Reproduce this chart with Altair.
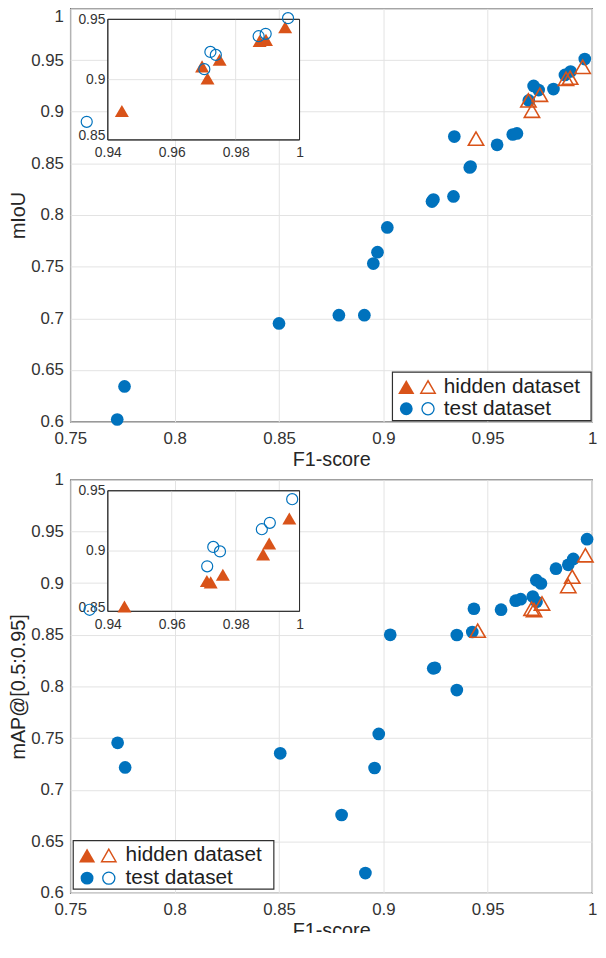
import altair as alt
import pandas as pd

BLUE = "#0072BD"
ORANGE = "#D95319"
GRID = "#e3e3e3"
FRAME = "#303030"
FONT = "Liberation Sans"

# ---------------- data ----------------
x_ticks = [0.75, 0.8, 0.85, 0.9, 0.95, 1.0]
y_ticks = [0.6, 0.65, 0.7, 0.75, 0.8, 0.85, 0.9, 0.95, 1.0]
inset_x_ticks = [0.94, 0.96, 0.98, 1.0]
inset_y_ticks = [0.85, 0.9, 0.95]
legend_labels = ["hidden dataset", "test dataset"]

# panel 1 : mIoU
miou_test_f1 = [0.7725, 0.776, 0.850, 0.8787, 0.8909, 0.8952, 0.8972, 0.9019, 0.9233, 0.924,
                0.9336, 0.934, 0.9414, 0.9418, 0.9545, 0.962, 0.964, 0.9697, 0.972, 0.9744,
                0.9815, 0.987, 0.9897, 0.9965]
miou_test_val = [0.602, 0.634, 0.695, 0.703, 0.703, 0.753, 0.764, 0.788, 0.813, 0.815,
                 0.818, 0.876, 0.846, 0.847, 0.868, 0.878, 0.879, 0.911, 0.925, 0.921,
                 0.922, 0.9357, 0.939, 0.951]
miou_hidden_f1 = [0.9444, 0.9695, 0.9712, 0.975, 0.9875, 0.9895, 0.9955]
miou_hidden_val = [0.874, 0.911, 0.901, 0.9165, 0.932, 0.933, 0.9435]
miou_inset_test_f1 = [0.9334, 0.9702, 0.9721, 0.9738, 0.9872, 0.9894, 0.9964]
miou_inset_test_val = [0.865, 0.9087, 0.923, 0.9205, 0.936, 0.938, 0.951]

# panel 2 : mAP@[0.5:0.95]
map_test_f1 = [0.7727, 0.7763, 0.8506, 0.880, 0.8914, 0.8958, 0.8978, 0.9033, 0.9239, 0.9247,
               0.9352, 0.9352, 0.9426, 0.9434, 0.9564, 0.9634, 0.9658, 0.9716, 0.9734, 0.9733,
               0.9755, 0.9827, 0.9886, 0.991, 0.9976]
map_test_val = [0.7454, 0.7216, 0.7352, 0.6755, 0.6193, 0.721, 0.754, 0.850, 0.8175, 0.818,
                0.7965, 0.8498, 0.8527, 0.8752, 0.8743, 0.883, 0.8845, 0.887, 0.882, 0.9029,
                0.8997, 0.914, 0.9178, 0.9235, 0.9426]
map_hidden_f1 = [0.9452, 0.971, 0.9722, 0.976, 0.9886, 0.9905, 0.9968]
map_hidden_val = [0.854, 0.8752, 0.874, 0.8803, 0.8972, 0.9063, 0.927]
map_inset_test_f1 = [0.9343, 0.9711, 0.973, 0.9751, 0.9882, 0.9907, 0.9977]
map_inset_test_val = [0.8513, 0.8873, 0.9034, 0.8997, 0.9181, 0.9234, 0.943]

W = 528
H_TOP = 418
H_BOT = 418


def panel(test_x, test_y, hid_x, hid_y, itest_x, itest_y, ytitle, H, leg, first):
    test_df = pd.DataFrame({"f1": test_x, "v": test_y})
    hid_df = pd.DataFrame({"f1": hid_x, "v": hid_y})
    itest_df = pd.DataFrame({"f1": itest_x, "v": itest_y})
    one = pd.DataFrame({"k": [0]})

    xs = alt.Scale(domain=[0.75, 1.0], nice=False, zero=False)
    ys = alt.Scale(domain=[0.6, 1.0], nice=False, zero=False)
    xax = alt.Axis(values=x_ticks, format="~g", title="F1-score", grid=True,
                   gridColor=GRID, domain=False, ticks=False, labelPadding=9,
                   labelFlush=False, titlePadding=3, labelFontSize=17, titleFontSize=20)
    ybase = {"condition": {"test": "datum.value > 0.99", "value": "top"},
             "value": "middle"} if first else "middle"
    yax = alt.Axis(values=y_ticks, format="~g", title=ytitle, grid=True,
                   gridColor=GRID, domain=False, ticks=False, labelPadding=7,
                   labelFlush=False, titlePadding=2, labelFontSize=17, titleFontSize=20,
                   labelBaseline=ybase)

    circles = alt.Chart(test_df).mark_circle(size=165, color=BLUE, opacity=1).encode(
        x=alt.X("f1:Q", scale=xs, axis=xax), y=alt.Y("v:Q", scale=ys, axis=yax))
    tris = alt.Chart(hid_df).mark_point(shape="triangle-up", filled=False, size=240,
                                        color=ORANGE, strokeWidth=1.6, opacity=1).encode(
        x=alt.X("f1:Q", scale=xs, axis=xax), y=alt.Y("v:Q", scale=ys, axis=yax))

    # legend (drawn inside the plot like MATLAB), offsets from the plot's bottom edge
    lx0, lx1, top_off, bot_off, r1_off, r2_off, s1, s2, tx = leg
    base = alt.Chart(one)
    lbox = base.mark_rect(fill="white", stroke=FRAME, strokeWidth=1.2).encode(
        x=alt.value(lx0), x2=alt.value(lx1), y=alt.value(H - top_off), y2=alt.value(H - bot_off))
    l_t1 = base.mark_point(shape="triangle-up", filled=True, size=270, color=ORANGE,
                           opacity=1).encode(x=alt.value(s1), y=alt.value(H - r1_off))
    l_t2 = base.mark_point(shape="triangle-up", filled=False, size=210, color=ORANGE,
                           strokeWidth=1.5, opacity=1).encode(x=alt.value(s2), y=alt.value(H - r1_off))
    l_c1 = base.mark_circle(size=170, color=BLUE, opacity=1).encode(
        x=alt.value(s1), y=alt.value(H - r2_off))
    l_c2 = base.mark_point(shape="circle", filled=False, size=150, color=BLUE,
                           strokeWidth=1.3, opacity=1).encode(x=alt.value(s2), y=alt.value(H - r2_off))
    l_txt1 = base.mark_text(align="left", baseline="middle", fontSize=21, font=FONT,
                            color="#202020").encode(x=alt.value(tx), y=alt.value(H - r1_off),
                                                    text=alt.value(legend_labels[0]))
    l_txt2 = base.mark_text(align="left", baseline="middle", fontSize=21, font=FONT,
                            color="#202020").encode(x=alt.value(tx), y=alt.value(H - r2_off),
                                                    text=alt.value(legend_labels[1]))

    main = alt.layer(circles, tris, lbox, l_t1, l_t2, l_c1, l_c2, l_txt1, l_txt2)

    # inset
    ix0, ix1, iy0, iy1 = 38, 232, 11, 133
    ixs = alt.Scale(domain=[0.94, 1.0], range=[ix0, ix1], nice=False, zero=False)
    iys = alt.Scale(domain=[0.85, 0.95], range=[iy1, iy0], nice=False, zero=False)
    ixax = alt.Axis(values=inset_x_ticks, format="~g", orient="bottom", offset=iy1 - H,
                    domain=False, ticks=False, grid=False, labelFontSize=14,
                    labelFlush=False, labelPadding=6, title=None)
    iyax = alt.Axis(values=inset_y_ticks, format="~g", orient="left", offset=-ix0,
                    domain=False, ticks=False, grid=False, labelFontSize=14,
                    labelFlush=False, labelPadding=3, title=None,
                    labelBaseline={"condition": {"test": "datum.value < 0.86",
                                                 "value": "alphabetic"},
                                   "value": "middle"})

    frame = alt.Chart(one).mark_rect(fill="white", stroke=FRAME, strokeWidth=1).encode(
        x=alt.XDatum(0.94, type="quantitative", scale=ixs, axis=ixax),
        x2=alt.X2Datum(1.0),
        y=alt.YDatum(0.85, type="quantitative", scale=iys, axis=iyax),
        y2=alt.Y2Datum(0.95))
    vgrid = alt.Chart(pd.DataFrame({"g": inset_x_ticks[1:3]})).mark_rule(
        color=GRID, strokeWidth=1).encode(
        x=alt.X("g:Q", scale=ixs, axis=ixax),
        y=alt.YDatum(0.85, type="quantitative", scale=iys, axis=iyax),
        y2=alt.Y2Datum(0.95))
    hgrid = alt.Chart(pd.DataFrame({"g": inset_y_ticks[1:2]})).mark_rule(
        color=GRID, strokeWidth=1).encode(
        y=alt.Y("g:Q", scale=iys, axis=iyax),
        x=alt.XDatum(0.94, type="quantitative", scale=ixs, axis=ixax),
        x2=alt.X2Datum(1.0))
    frame2 = alt.Chart(one).mark_rect(fill=None, stroke=FRAME, strokeWidth=1).encode(
        x=alt.XDatum(0.94, type="quantitative", scale=ixs, axis=ixax),
        x2=alt.X2Datum(1.0),
        y=alt.YDatum(0.85, type="quantitative", scale=iys, axis=iyax),
        y2=alt.Y2Datum(0.95))
    itris = alt.Chart(hid_df).mark_point(shape="triangle-up", filled=True, size=200,
                                         color=ORANGE, opacity=1).encode(
        x=alt.X("f1:Q", scale=ixs, axis=ixax), y=alt.Y("v:Q", scale=iys, axis=iyax))
    icirc = alt.Chart(itest_df).mark_point(shape="circle", filled=False, size=125,
                                           color=BLUE, strokeWidth=1.2, opacity=1).encode(
        x=alt.X("f1:Q", scale=ixs, axis=ixax), y=alt.Y("v:Q", scale=iys, axis=iyax))
    inset = alt.layer(frame, vgrid, hgrid, frame2, itris, icirc)

    return alt.layer(main, inset).resolve_scale(x="independent", y="independent") \
        .resolve_axis(x="independent", y="independent").properties(width=W, height=H)


# legend geometry: box x0, x1, top/bottom offsets above plot bottom, row offsets,
# symbol x positions, text x
top = panel(miou_test_f1, miou_test_val, miou_hidden_f1, miou_hidden_val,
            miou_inset_test_f1, miou_inset_test_val, "mIoU", H_TOP,
            (326, 527, 50, 1, 35, 13, 340, 362, 378), True)
bottom = panel(map_test_f1, map_test_val, map_hidden_f1, map_hidden_val,
               map_inset_test_f1, map_inset_test_val, "mAP@[0.5:0.95]", H_BOT,
               (3, 206, 53, 4, 38, 15, 17, 39, 56), False)

chart = alt.vconcat(top, bottom, spacing=0).properties(
    padding={"left": 0, "top": -7, "right": 0, "bottom": -14}
).configure_view(stroke=FRAME, strokeWidth=1.2).configure_axis(
    labelFont=FONT, titleFont=FONT, labelColor="#333333", titleColor="#262626",
    titleFontWeight="normal"
)

chart.save("out.html", embed_options={"renderer": "svg", "actions": False})
